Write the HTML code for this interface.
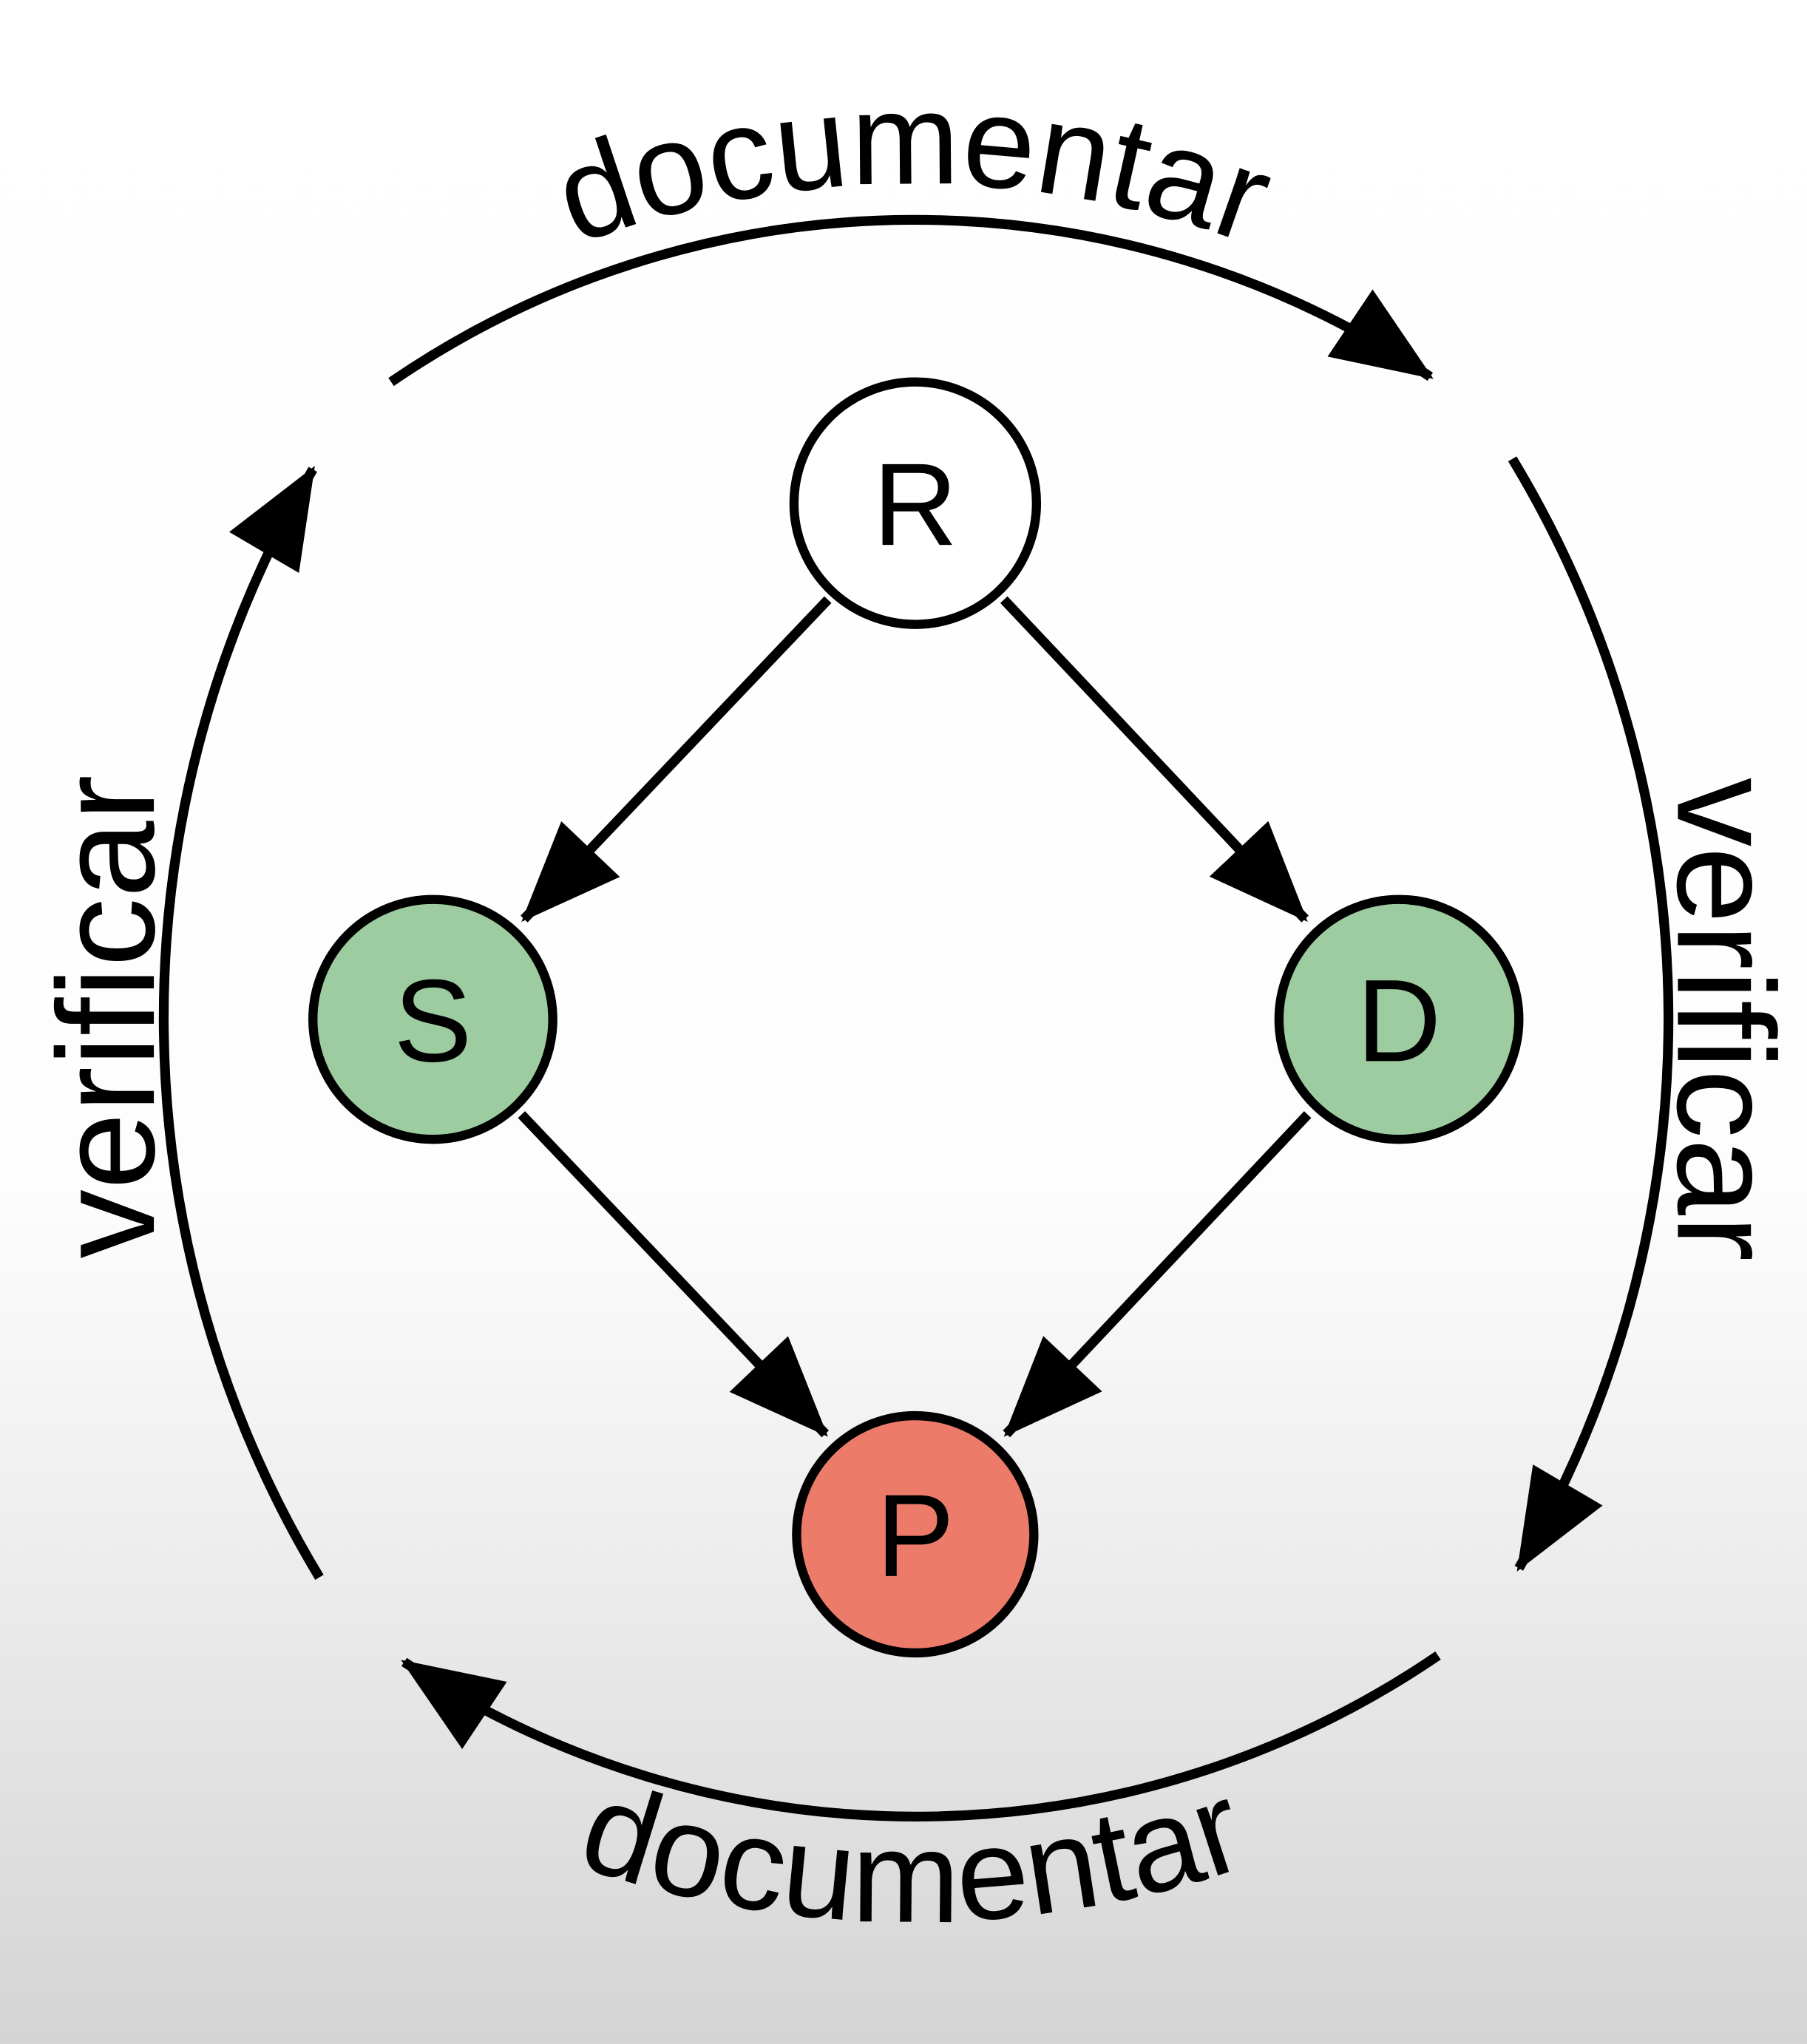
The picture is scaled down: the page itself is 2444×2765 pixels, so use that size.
<!DOCTYPE html>
<html><head><meta charset="utf-8"><style>html,body{margin:0;padding:0;overflow:hidden;width:2444px;height:2765px}svg{display:block}</style></head>
<body>
<svg width="2444" height="2765" viewBox="0 0 1386 1568" xmlns="http://www.w3.org/2000/svg" style="font-family:'Liberation Sans', Arial, sans-serif">
<defs>
<linearGradient id="bg" x1="0" y1="0" x2="0" y2="1">
<stop offset="0" stop-color="#ffffff"/>
<stop offset="0.58" stop-color="#fdfdfd"/>
<stop offset="0.75" stop-color="#eeeeee"/>
<stop offset="1" stop-color="#d4d4d4"/>
</linearGradient>
<marker id="ah" markerUnits="userSpaceOnUse" markerWidth="90" markerHeight="70" viewBox="-80 -35 90 70" refX="0" refY="0" orient="auto">
<path d="M3,0 L-74,-31 L-74,31 Z" fill="#000"/>
</marker>
<path id="tp" d="M62,509 A737,737 0 0 1 1338,509" fill="none"/>
<path id="bp" d="M18,1081 A788,788 0 0 0 1382,1081" fill="none"/>
</defs>
<rect width="1386" height="1568" fill="url(#bg)"/>
<g fill="none" stroke="#000" stroke-width="7.5">
<path d="M300,293 A710,710 0 0 1 1097,289" marker-end="url(#ah)"/>
<path d="M1160,352 A831,831 0 0 1 1165,1203" marker-end="url(#ah)"/>
<path d="M1103,1270 A710,710 0 0 1 310,1275" marker-end="url(#ah)"/>
<path d="M245,1210 A831,831 0 0 1 240,360" marker-end="url(#ah)"/>
<line x1="635" y1="460" x2="402" y2="705" marker-end="url(#ah)"/>
<line x1="770" y1="460" x2="1001" y2="705" marker-end="url(#ah)"/>
<line x1="400" y1="855" x2="633" y2="1100" marker-end="url(#ah)"/>
<line x1="1003" y1="855" x2="772" y2="1100" marker-end="url(#ah)"/>
</g>
<g stroke="#000" stroke-width="7">
<circle cx="702" cy="386" r="93" fill="#ffffff"/>
<circle cx="332" cy="782" r="92" fill="#9ccc9f"/>
<circle cx="1073" cy="782" r="92" fill="#9ccc9f"/>
<circle cx="702" cy="1177" r="91" fill="#ec7b6a"/>
</g>
<g font-size="90" text-anchor="middle" fill="#000">
<text x="702" y="418">R</text>
<text x="332" y="814">S</text>
<text x="1073" y="814">D</text>
<text x="702" y="1209">P</text>
</g>
<g font-size="100" fill="#000">
<text text-anchor="middle"><textPath href="#tp" startOffset="50%">documentar</textPath></text>
<text text-anchor="middle"><textPath href="#bp" startOffset="50%">documentar</textPath></text>
<text transform="translate(118,780) rotate(-90)" text-anchor="middle" font-size="106">verificar</text>
<text transform="translate(1287,782) rotate(90)" text-anchor="middle" font-size="106">verificar</text>
</g>
</svg>
</body></html>
